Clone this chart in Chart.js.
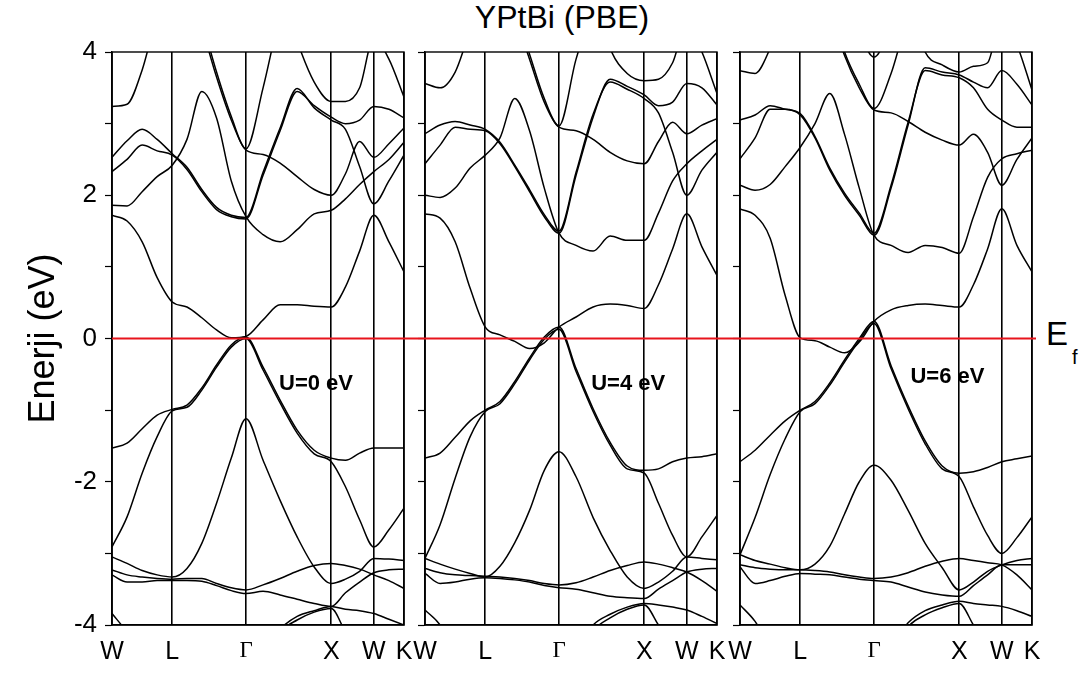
<!DOCTYPE html>
<html>
<head>
<meta charset="utf-8">
<script src="https://cdn.jsdelivr.net/npm/chart.js@4.4.0/dist/chart.umd.min.js"></script>
<style>
  body { margin: 0; background: #fff; }
  #wrap { position: relative; width: 1089px; height: 675px; overflow: hidden; font-family: 'Liberation Sans', Arial, sans-serif; color: #000; }
  #wrap canvas { position: absolute; left: 0; top: 0; }
  #title { position: absolute; left: 400px; top: 1px; width: 324px; text-align: center; font-size: 32px; line-height: 1; }
  #efE { position: absolute; left: 1046px; top: 317px; font-size: 33px; line-height: 1; }
  #efF { position: absolute; left: 1072px; top: 347px; font-size: 20px; line-height: 1; }
</style>
</head>
<body>
<div id="wrap">
  <div id="title">YPtBi (PBE)</div>
  <div id="efE">E</div>
  <div id="efF">f</div>
</div>
<script>
// k-path: W - L - Γ - X - W - K
const kLabels = ['W', 'L', 'Γ', 'X', 'W', 'K'];
const kSym = [0, 0.707, 1.573, 2.573, 3.073, 3.427];
const kGrid = [0, 0.177, 0.354, 0.530, 0.707, 0.880, 1.054, 1.227, 1.400, 1.573,
               1.773, 1.973, 2.173, 2.373, 2.573, 2.740, 2.906, 3.073, 3.250, 3.427];
const efLevel = 0;

// === U = 0 eV ===
const bandsU0 = [
  [1.72, 1.64, 1.35, 0.85, 0.51, 0.44, 0.29, 0.12, 0.01, 0.03, 0.26, 0.47, 0.47, 0.45, 0.44, 0.72, 1.22, 1.72, 1.35, 0.93],
  [1.86, 1.85, 2.05, 2.26, 2.42, 2.78, 3.45, 3.08, 2.20, 1.70, 1.45, 1.35, 1.52, 1.74, 1.79, 1.95, 2.15, 2.33, 2.50, 2.74],
  [2.33, 2.50, 2.70, 2.62, 2.56, 2.36, 2.05, 1.80, 1.70, 1.67, 2.28, 2.90, 3.45, 3.25, 3.09, 3.00, 3.05, 3.24, 3.20, 3.08],
  [2.53, 2.76, 2.92, 2.78, 2.58, 2.39, 2.08, 1.83, 1.72, 1.69, 2.32, 2.94, 3.49, 3.22, 3.05, 2.92, 2.40, 1.88, 2.20, 2.56],
  [5.20, 5.00, 4.90, 5.00, 5.20, 5.00, 4.35, 3.65, 3.05, 2.63, 2.57, 2.45, 2.26, 2.08, 2.00, 2.30, 2.75, 2.53, 2.72, 2.94],
  [5.60, 5.50, 5.50, 5.60, 5.60, 5.20, 4.45, 3.72, 3.10, 2.65, 3.50, 4.50, 5.00, 5.20, 5.30, 5.30, 5.20, 5.20, 5.20, 5.20],
  [3.24, 3.27, 3.75, 4.50, 4.90, 5.00, 5.00, 5.00, 5.00, 5.00, 5.00, 4.90, 4.15, 3.58, 3.31, 3.31, 3.50, 4.20, 3.90, 3.37],
  [-1.53, -1.46, -1.26, -1.07, -0.99, -0.93, -0.69, -0.37, -0.09, 0.02, -0.40, -0.86, -1.28, -1.56, -1.67, -1.70, -1.60, -1.53, -1.53, -1.53],
  [-2.91, -2.49, -1.88, -1.37, -1.01, -0.96, -0.72, -0.40, -0.12, 0.00, -0.44, -0.90, -1.32, -1.61, -1.72, -2.07, -2.53, -2.91, -2.67, -2.37],
  [-3.05, -3.14, -3.24, -3.30, -3.33, -3.21, -2.86, -2.30, -1.67, -1.12, -1.70, -2.26, -2.77, -3.19, -3.42, -3.36, -3.25, -3.07, -3.08, -3.10],
  [-3.23, -3.30, -3.33, -3.35, -3.36, -3.35, -3.35, -3.42, -3.48, -3.51, -3.44, -3.35, -3.25, -3.17, -3.14, -3.17, -3.22, -3.30, -3.38, -3.49],
  [-3.30, -3.40, -3.40, -3.38, -3.38, -3.38, -3.39, -3.45, -3.52, -3.56, -3.53, -3.58, -3.64, -3.70, -3.74, -3.55, -3.40, -3.27, -3.23, -3.22],
  [-3.84, -4.10, -4.40, -4.50, -4.50, -4.50, -4.50, -4.50, -4.50, -4.50, -4.30, -4.05, -3.88, -3.80, -3.74, -3.78, -3.80, -3.84, -3.92, -4.00],
  [-4.50, -4.50, -4.50, -4.50, -4.50, -4.50, -4.50, -4.50, -4.50, -4.50, -4.50, -4.10, -3.93, -3.82, -3.77, -4.10, -4.40, -4.50, -4.50, -4.50]
];

// === U = 4 eV ===
const bandsU4 = [
  [1.74, 1.68, 1.35, 0.70, 0.16, 0.05, -0.04, -0.14, -0.06, 0.16, 0.30, 0.44, 0.48, 0.46, 0.42, 0.75, 1.25, 1.74, 1.28, 0.88],
  [2.00, 1.97, 2.10, 2.38, 2.56, 2.80, 3.35, 2.90, 2.10, 1.47, 1.30, 1.22, 1.43, 1.37, 1.37, 1.75, 2.20, 2.44, 2.62, 2.78],
  [2.44, 2.70, 2.95, 2.92, 2.90, 2.72, 2.40, 2.05, 1.70, 1.47, 2.28, 3.09, 3.62, 3.52, 3.40, 3.25, 3.30, 3.56, 3.50, 3.26],
  [2.86, 2.98, 3.03, 2.98, 2.92, 2.74, 2.42, 2.08, 1.73, 1.50, 2.32, 3.13, 3.58, 3.48, 3.35, 3.15, 2.60, 2.00, 2.35, 2.60],
  [5.20, 5.00, 4.90, 5.00, 5.20, 5.00, 4.50, 3.90, 3.30, 2.95, 2.90, 2.78, 2.60, 2.48, 2.44, 2.75, 3.02, 2.86, 2.98, 3.07],
  [5.60, 5.50, 5.50, 5.60, 5.60, 5.30, 4.60, 3.97, 3.35, 2.97, 3.90, 4.60, 5.00, 5.20, 5.30, 5.30, 5.20, 5.20, 5.20, 5.20],
  [3.56, 3.50, 3.72, 4.30, 4.80, 5.00, 5.00, 5.00, 5.00, 5.00, 5.00, 4.90, 4.05, 3.70, 3.60, 3.62, 3.85, 4.40, 4.00, 3.42],
  [-1.67, -1.60, -1.38, -1.15, -1.00, -0.88, -0.60, -0.27, 0.02, 0.16, -0.42, -0.98, -1.45, -1.78, -1.84, -1.82, -1.72, -1.67, -1.65, -1.61],
  [-3.07, -2.60, -1.95, -1.37, -1.02, -0.91, -0.63, -0.30, -0.01, 0.13, -0.46, -1.02, -1.49, -1.82, -1.88, -2.30, -2.75, -3.05, -2.77, -2.47],
  [-3.07, -3.15, -3.22, -3.28, -3.33, -3.18, -2.85, -2.40, -1.84, -1.58, -1.93, -2.50, -2.96, -3.33, -3.49, -3.40, -3.25, -3.05, -3.07, -3.09],
  [-3.21, -3.27, -3.30, -3.31, -3.32, -3.33, -3.35, -3.38, -3.42, -3.44, -3.41, -3.33, -3.24, -3.17, -3.12, -3.15, -3.20, -3.26, -3.38, -3.53],
  [-3.28, -3.42, -3.40, -3.36, -3.34, -3.35, -3.37, -3.40, -3.45, -3.48, -3.50, -3.55, -3.60, -3.62, -3.63, -3.50, -3.38, -3.26, -3.22, -3.21],
  [-3.79, -4.00, -4.40, -4.50, -4.50, -4.50, -4.50, -4.50, -4.50, -4.50, -4.35, -4.00, -3.85, -3.75, -3.70, -3.72, -3.75, -3.79, -3.88, -3.98],
  [-4.50, -4.50, -4.50, -4.50, -4.50, -4.50, -4.50, -4.50, -4.50, -4.50, -4.50, -4.08, -3.90, -3.78, -3.72, -4.00, -4.30, -4.50, -4.50, -4.50]
];

// === U = 6 eV ===
const bandsU6 = [
  [1.81, 1.72, 1.40, 0.60, 0.01, -0.03, -0.12, -0.20, -0.05, 0.24, 0.40, 0.46, 0.48, 0.46, 0.44, 0.75, 1.25, 1.81, 1.30, 0.93],
  [2.14, 2.07, 2.15, 2.40, 2.67, 3.00, 3.42, 2.85, 2.10, 1.44, 1.30, 1.20, 1.30, 1.27, 1.19, 1.70, 2.25, 2.51, 2.58, 2.63],
  [2.51, 2.80, 3.20, 3.20, 3.12, 2.80, 2.35, 2.00, 1.72, 1.44, 2.10, 2.98, 3.78, 3.72, 3.68, 3.58, 3.50, 3.74, 3.55, 3.26],
  [3.05, 3.12, 3.25, 3.20, 3.14, 2.82, 2.38, 2.03, 1.75, 1.47, 2.14, 3.02, 3.74, 3.68, 3.64, 3.50, 3.20, 3.05, 2.95, 2.95],
  [5.20, 5.00, 4.90, 5.00, 5.20, 5.00, 4.60, 3.95, 3.50, 3.19, 3.15, 3.03, 2.88, 2.77, 2.70, 2.85, 2.60, 2.14, 2.50, 2.80],
  [5.60, 5.50, 5.50, 5.60, 5.60, 5.30, 4.70, 4.00, 3.55, 3.21, 3.70, 4.50, 5.00, 5.20, 5.30, 5.30, 5.20, 5.20, 5.20, 5.20],
  [6.00, 6.00, 6.00, 6.00, 6.00, 6.00, 6.00, 5.00, 4.30, 3.93, 4.40, 5.20, 6.00, 6.00, 6.00, 6.00, 6.00, 6.00, 6.00, 6.00],
  [3.74, 3.70, 4.05, 4.60, 5.00, 5.00, 5.00, 5.00, 5.00, 5.00, 5.00, 4.80, 4.00, 3.82, 3.72, 3.80, 3.85, 4.50, 4.10, 3.47],
  [-1.72, -1.56, -1.35, -1.15, -1.00, -0.88, -0.62, -0.30, 0.00, 0.24, -0.38, -0.94, -1.43, -1.78, -1.88, -1.86, -1.80, -1.72, -1.68, -1.64],
  [-3.02, -2.50, -1.90, -1.40, -1.02, -0.91, -0.65, -0.33, -0.03, 0.21, -0.42, -0.98, -1.47, -1.82, -1.93, -2.35, -2.75, -3.00, -2.78, -2.49],
  [-3.02, -3.10, -3.15, -3.20, -3.23, -3.15, -2.90, -2.45, -2.00, -1.77, -1.98, -2.40, -2.86, -3.20, -3.51, -3.40, -3.25, -3.16, -3.10, -3.07],
  [-3.16, -3.20, -3.22, -3.23, -3.23, -3.24, -3.26, -3.30, -3.33, -3.35, -3.33, -3.27, -3.18, -3.11, -3.07, -3.10, -3.13, -3.16, -3.30, -3.51],
  [-3.19, -3.42, -3.38, -3.32, -3.28, -3.29, -3.30, -3.33, -3.36, -3.38, -3.40, -3.47, -3.54, -3.58, -3.60, -3.45, -3.30, -3.16, -3.16, -3.16],
  [-3.72, -3.95, -4.30, -4.50, -4.50, -4.50, -4.50, -4.50, -4.50, -4.50, -4.30, -3.97, -3.80, -3.72, -3.67, -3.70, -3.72, -3.74, -3.80, -3.88],
  [-4.50, -4.50, -4.50, -4.50, -4.50, -4.50, -4.50, -4.50, -4.50, -4.50, -4.50, -4.03, -3.86, -3.76, -3.70, -4.00, -4.30, -4.50, -4.50, -4.50]
];

const panelBands = [bandsU0, bandsU4, bandsU6];
const panelTexts = ['U=0 eV', 'U=4 eV', 'U=6 eV'];

Chart.defaults.font.family = "'Liberation Sans', Arial, sans-serif";
Chart.defaults.color = '#000';

const wrap = document.getElementById('wrap');
const charts = [];

// layout of the three panels (pixel boxes) and where the U text sits (k, E)
const panelBox = [
  { left: 112, right: 404, text: [1.96, -0.64] },
  { left: 425, right: 717, text: [1.95, -0.64] },
  { left: 740, right: 1032, text: [2.0, -0.54] }
];

// frame around each panel
const framePlugin = {
  id: 'frame',
  afterDatasetsDraw(chart) {
    const a = chart.chartArea, ctx = chart.ctx;
    ctx.save();
    ctx.strokeStyle = '#000';
    ctx.lineWidth = 1.4;
    ctx.strokeRect(a.left, a.top, a.right - a.left, a.bottom - a.top);
    ctx.restore();
  }
};

function textPlugin(txt, pos) {
  return {
    id: 'uText',
    afterDatasetsDraw(chart) {
      const ctx = chart.ctx;
      ctx.save();
      ctx.font = "bold 22px 'Liberation Sans', Arial, sans-serif";
      ctx.fillStyle = '#000';
      ctx.textAlign = 'left';
      ctx.textBaseline = 'middle';
      ctx.fillText(txt, chart.scales.x.getPixelForValue(pos[0]), chart.scales.y.getPixelForValue(pos[1]));
      ctx.restore();
    }
  };
}

// Fermi level: one red line across all three panels
const efPlugin = {
  id: 'efLine',
  afterDraw(chart) {
    const y = chart.scales.y.getPixelForValue(efLevel);
    const ctx = chart.ctx;
    ctx.save();
    ctx.strokeStyle = '#e8141c';
    ctx.lineWidth = 1.8;
    ctx.beginPath();
    ctx.moveTo(charts[0].chartArea.left, y);
    ctx.lineTo(chart.chartArea.right + 4, y);
    ctx.stroke();
    ctx.restore();
  }
};

function makePanel(bands, i) {
  const box = panelBox[i];
  const first = i === 0;
  const yWidth = first ? 94 : 20;
  const cv = document.createElement('canvas');
  cv.width = 1089;
  cv.height = 675;
  wrap.appendChild(cv);

  const datasets = bands.map(b => ({
    data: kGrid.map((k, j) => ({ x: k, y: b[j] })),
    borderColor: '#000',
    borderWidth: 1.5,
    pointRadius: 0,
    fill: false,
    cubicInterpolationMode: 'monotone'
  }));

  const plugins = [framePlugin, textPlugin(panelTexts[i], box.text)];
  if (i === 2) plugins.push(efPlugin);

  return new Chart(cv, {
    type: 'line',
    data: { datasets },
    options: {
      responsive: false,
      animation: false,
      events: [],
      layout: { padding: { left: box.left - yWidth, right: 1089 - box.right, top: 52, bottom: 0 } },
      plugins: { legend: { display: false }, tooltip: { enabled: false } },
      scales: {
        x: {
          type: 'linear',
          min: kSym[0],
          max: kSym[kSym.length - 1],
          afterBuildTicks: s => { s.ticks = kSym.map(v => ({ value: v })); },
          afterFit: s => { s.height = 50; },
          ticks: {
            autoSkip: false,
            maxRotation: 0,
            padding: 12,
            color: '#000',
            font: c => c.index === 2
              ? { family: "'Liberation Serif', serif", size: 23 }
              : { family: "'Liberation Sans', Arial, sans-serif", size: 25 },
            callback: (v, idx) => kLabels[idx]
          },
          grid: { drawOnChartArea: true, drawTicks: false, color: '#000', lineWidth: 1.6 },
          border: { color: '#000', width: 1.4 }
        },
        y: {
          min: -4,
          max: 4,
          afterFit: s => { s.width = yWidth; },
          ticks: {
            stepSize: 1,
            padding: 8,
            color: '#000',
            font: { size: 26 },
            callback: v => (first && v % 2 === 0) ? String(v) : ''
          },
          grid: { drawOnChartArea: false, tickLength: 7, tickColor: '#000', tickWidth: 1.2 },
          border: { color: '#000', width: 1.4 },
          title: { display: first, text: 'Enerji (eV)', color: '#000', font: { size: 36 }, padding: 4 }
        }
      }
    },
    plugins
  });
}

panelBands.forEach((b, i) => charts.push(makePanel(b, i)));
</script>
</body>
</html>
